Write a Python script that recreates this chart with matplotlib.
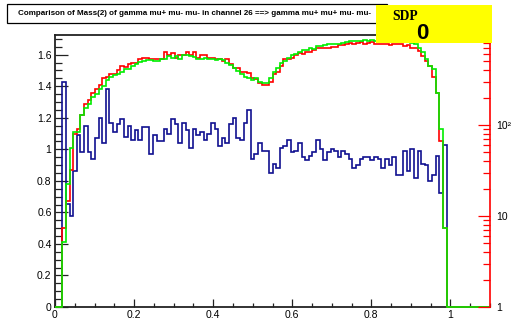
import numpy as np
import matplotlib
matplotlib.use("Agg")
import matplotlib.pyplot as plt
from matplotlib.patches import Rectangle
from matplotlib.ticker import FixedLocator, FuncFormatter, MultipleLocator, FixedFormatter

# histogram: 120 bins on [0, 1.1], filled bins run from bin 2 to bin 107
n_bins = 120
x_range = (0.0, 1.1)
first_bin = 2

red_vals = [
  0.50, 0.67, 0.87, 1.10, 1.13, 1.22, 1.29, 1.31, 1.36, 1.38,
  1.41, 1.45, 1.46, 1.48, 1.48, 1.50, 1.53, 1.52, 1.54, 1.55,
  1.55, 1.57, 1.58, 1.58, 1.57, 1.575, 1.575, 1.57, 1.62, 1.595,
  1.61, 1.58, 1.595, 1.595, 1.62, 1.595, 1.615, 1.58, 1.60, 1.595,
  1.58, 1.58, 1.575, 1.575, 1.56, 1.57, 1.54, 1.515, 1.515, 1.49,
  1.49, 1.485, 1.45, 1.445, 1.42, 1.41, 1.41, 1.43, 1.48, 1.49,
  1.53, 1.57, 1.575, 1.58, 1.595, 1.61, 1.605, 1.62, 1.62, 1.63,
  1.64, 1.64, 1.64, 1.645, 1.65, 1.65, 1.66, 1.66, 1.665, 1.675,
  1.665, 1.675, 1.68, 1.67, 1.675, 1.68, 1.67, 1.665, 1.67, 1.665,
  1.66, 1.67, 1.665, 1.67, 1.655, 1.66, 1.645, 1.64, 1.625, 1.59,
  1.56, 1.53, 1.46, 1.36, 1.05, 0.50,
]

green_vals = [
  0.41, 0.78, 1.01, 1.11, 1.11, 1.22, 1.26, 1.29, 1.33, 1.35,
  1.38, 1.40, 1.44, 1.46, 1.47, 1.48, 1.49, 1.51, 1.51, 1.53,
  1.54, 1.555, 1.56, 1.565, 1.565, 1.56, 1.56, 1.575, 1.575, 1.59,
  1.58, 1.59, 1.575, 1.595, 1.595, 1.59, 1.585, 1.57, 1.57, 1.58,
  1.57, 1.57, 1.565, 1.57, 1.565, 1.55, 1.535, 1.515, 1.495, 1.475,
  1.46, 1.45, 1.44, 1.45, 1.43, 1.42, 1.42, 1.45, 1.49, 1.515,
  1.55, 1.56, 1.58, 1.595, 1.605, 1.62, 1.63, 1.63, 1.64, 1.635,
  1.655, 1.655, 1.66, 1.665, 1.665, 1.67, 1.67, 1.675, 1.68, 1.685,
  1.69, 1.685, 1.69, 1.695, 1.69, 1.695, 1.685, 1.69, 1.69, 1.685,
  1.69, 1.685, 1.69, 1.685, 1.68, 1.68, 1.675, 1.665, 1.645, 1.615,
  1.575, 1.53, 1.51, 1.36, 1.13, 0.50,
]

blue_vals = [
  1.43, 0.656, 0.58, 0.86, 1.09, 0.98, 1.15, 0.98, 0.94, 1.07,
  1.20, 1.04, 1.38, 1.17, 1.11, 1.16, 1.19, 1.08, 1.15, 1.06,
  1.12, 1.06, 1.14, 1.14, 0.97, 1.09, 1.05, 1.05, 1.13, 1.10,
  1.19, 1.16, 1.04, 1.17, 1.12, 1.01, 1.13, 1.09, 1.11, 1.06,
  1.10, 1.17, 1.13, 1.02, 1.07, 1.04, 1.16, 1.20, 1.07, 1.06,
  1.17, 1.25, 0.94, 0.97, 1.04, 0.99, 0.99, 0.85, 0.91, 0.88,
  1.01, 1.02, 1.06, 0.98, 0.99, 1.04, 0.95, 0.93, 0.96, 0.98,
  1.06, 1.00, 0.93, 0.98, 1.00, 0.99, 0.95, 0.99, 0.97, 0.94,
  0.88, 0.90, 0.94, 0.95, 0.95, 0.93, 0.95, 0.94, 0.88, 0.94,
  0.90, 0.95, 0.84, 0.84, 0.99, 0.86, 1.00, 0.82, 0.99, 0.91,
  0.90, 0.80, 0.84, 0.96, 0.72, 1.03,
]

x_ticks = [0, 0.2, 0.4, 0.6, 0.8, 1.0]
y_ticks = [0, 0.2, 0.4, 0.6, 0.8, 1.0, 1.2, 1.4, 1.6]
right_ticks = [1, 10, 100]
right_labels = ["1", "10", "10\u00b2"]

title = "Comparison of Mass(2) of gamma mu+ mu- mu- in channel 26 ==> gamma mu+ mu+ mu- mu-"

W, H = 513, 328
FONT = "Liberation Sans"


def full_hist(vals):
  """Pad the filled bins with the empty ones on both sides."""
  h = np.zeros(n_bins)
  h[first_bin:first_bin + len(vals)] = vals
  return h


def px(x0, y0, w, h):
  """Pixel box (from top left) to figure fractions."""
  return [x0 / W, 1 - (y0 + h) / H, w / W, h / H]


fig = plt.figure(figsize=(W / 100, H / 100), dpi=100)
fig.patch.set_facecolor("white")

ax = fig.add_axes(px(55, 35, 435, 272))
edges = np.linspace(x_range[0], x_range[1], n_bins + 1)

for vals, col in [(blue_vals, "#101090"), (red_vals, "#ff0000"), (green_vals, "#00ee00")]:
  ax.stairs(full_hist(vals), edges, color=col, linewidth=1.2, baseline=0, zorder=3, clip_on=False)

ax.set_xlim(*x_range)
ax.set_ylim(0, 1.725)

ax.xaxis.set_major_locator(FixedLocator(x_ticks))
ax.xaxis.set_minor_locator(MultipleLocator(0.05))
ax.yaxis.set_major_locator(FixedLocator(y_ticks))
ax.yaxis.set_minor_locator(MultipleLocator(0.05))
fmt = FuncFormatter(lambda v, p: f"{v:g}")
ax.xaxis.set_major_formatter(fmt)
ax.yaxis.set_major_formatter(fmt)

ax.tick_params(axis="x", which="major", direction="in", length=5.5, width=0.9, color="#222222", pad=2.5)
ax.tick_params(axis="x", which="minor", direction="in", length=2.9, width=0.9, color="#222222")
ax.tick_params(axis="y", which="major", direction="in", length=9, width=0.9, color="#222222", pad=2.5)
ax.tick_params(axis="y", which="minor", direction="in", length=4.8, width=0.9, color="#222222")
for lab in ax.get_xticklabels() + ax.get_yticklabels():
  lab.set_fontfamily(FONT)
  lab.set_fontsize(7.5)

for side in ["left", "bottom", "top"]:
  ax.spines[side].set_color("#222222")
  ax.spines[side].set_linewidth(1.3)
ax.spines["right"].set_visible(False)

# red log axis on the right
ax2 = ax.twinx()
ax2.set_yscale("log")
ax2.set_ylim(1, 10 ** (272 / 91.0))
ax2.yaxis.set_major_locator(FixedLocator(right_ticks))
ax2.yaxis.set_major_formatter(FixedFormatter(right_labels))
ax2.yaxis.set_minor_locator(FixedLocator([m * 10 ** k for k in range(3) for m in range(2, 10)]))
ax2.yaxis.set_minor_formatter(FuncFormatter(lambda v, p: ""))
ax2.tick_params(axis="y", which="major", direction="in", length=9, width=0.9, color="#ff0000",
                labelcolor="black", pad=4.5)
ax2.tick_params(axis="y", which="minor", direction="in", length=4.8, width=0.9, color="#ff0000")
for lab in ax2.get_yticklabels():
  lab.set_fontfamily(FONT)
  lab.set_fontsize(7.5)
for side in ["left", "bottom", "top"]:
  ax2.spines[side].set_visible(False)
ax2.spines["right"].set_color("#ff0000")
ax2.spines["right"].set_linewidth(1.2)

# title pave
x0, y0, w, h = px(7, 4.5, 380, 18)
fig.add_artist(Rectangle((x0, y0), w, h, transform=fig.transFigure, facecolor="white",
                         edgecolor="black", linewidth=0.9, zorder=5))
fig.text(194 / W, 1 - 13.8 / H, title, ha="center", va="center", fontsize=5.8,
         fontweight="bold", family=FONT, zorder=6)

# yellow stat box
x0, y0, w, h = px(376, 5, 116, 38)
fig.add_artist(Rectangle((x0, y0), w, h, transform=fig.transFigure, facecolor="#ffff00",
                         edgecolor="none", zorder=5))
fig.text(392 / W, 1 - 16 / H, "SDP", ha="left", va="center", fontsize=9.8, fontweight="bold",
         family="Liberation Serif", zorder=6)
fig.text(422 / W, 1 - 33.5 / H, "0", ha="center", va="center", fontsize=16, fontweight="bold",
         family=FONT, zorder=6)

fig.savefig("out.png", dpi=100)
